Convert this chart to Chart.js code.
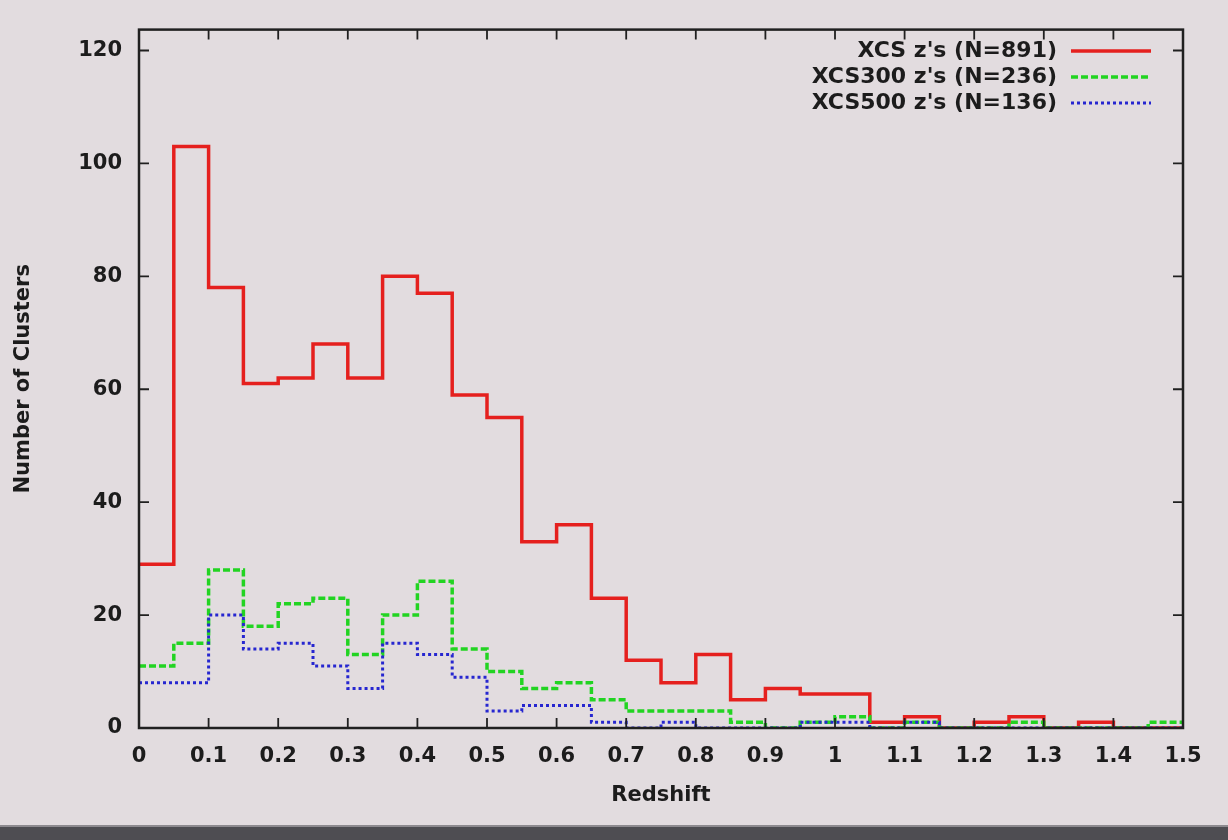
<!DOCTYPE html>
<html><head><meta charset="utf-8">
<script src="https://cdn.jsdelivr.net/npm/chart.js@4/dist/chart.umd.min.js"></script>
<style>
html,body{margin:0;padding:0;background:#e2dcdf;width:1228px;height:840px;overflow:hidden;}
#wrap{position:absolute;left:0;top:0;width:1228px;height:840px;}
#band{position:absolute;left:0;top:825px;width:1228px;height:15px;background:#4e4d52;border-top:2px solid #8d8a8f;}
</style></head><body>
<div id="wrap"><canvas id="c" width="1228" height="840"></canvas></div>
<div id="band"></div>
<script>
// Bin edges (redshift), 30 bins of 0.05
const binEdges = [0,0.05,0.1,0.15,0.2,0.25,0.3,0.35,0.4,0.45,0.5,0.55,0.6,0.65,0.7,0.75,0.8,0.85,0.9,0.95,1,1.05,1.1,1.15,1.2,1.25,1.3,1.35,1.4,1.45,1.5];
// Counts per bin
const xcsCounts    = [29,103,78,61,62,68,62,80,77,59,55,33,36,23,12,8,13,5,7,6,6,1,2,0,1,2,0,1,0,0];
const xcs300Counts = [11,15,28,18,22,23,13,20,26,14,10,7,8,5,3,3,3,1,0,1,2,0,1,0,0,1,0,0,0,1];
const xcs500Counts = [8,8,20,14,15,11,7,15,13,9,3,4,4,1,0,1,0,0,0,1,1,0,1,0,0,0,0,0,0,0];
const seriesLabels = ["XCS z's (N=891)", "XCS300 z's (N=236)", "XCS500 z's (N=136)"];
const xTickValues = [0,0.1,0.2,0.3,0.4,0.5,0.6,0.7,0.8,0.9,1,1.1,1.2,1.3,1.4,1.5];
const yTickValues = [0,20,40,60,80,100,120];
const xTitle = "Redshift";
const yTitle = "Number of Clusters";

function histPoints(counts){
  const pts = counts.map((v,i)=>({x:binEdges[i], y:v}));
  pts.push({x:binEdges[binEdges.length-1], y:counts[counts.length-1]});
  return pts;
}

const FONT = '"DejaVu Sans", sans-serif';
const styles = [
  {color:'#e5201e', width:3.5, dash:[]},
  {color:'#22d422', width:3.5, dash:[7,3]},
  {color:'#2626d0', width:3, dash:[3,3]}
];

const framePlugin = {
  id:'frame',
  afterDatasetsDraw(chart){
    const {ctx, chartArea:a, scales:{x,y}} = chart;
    ctx.save();
    ctx.strokeStyle = '#202020';
    ctx.lineWidth = 1.8;
    const tl = 10;
    ctx.beginPath();
    xTickValues.forEach(v=>{
      const px = x.getPixelForValue(v);
      ctx.moveTo(px,a.bottom); ctx.lineTo(px,a.bottom-tl);
      ctx.moveTo(px,a.top); ctx.lineTo(px,a.top+tl);
    });
    yTickValues.forEach(v=>{
      const py = y.getPixelForValue(v);
      ctx.moveTo(a.left,py); ctx.lineTo(a.left+tl,py);
      ctx.moveTo(a.right,py); ctx.lineTo(a.right-tl,py);
    });
    ctx.stroke();
    ctx.lineWidth = 2.5;
    ctx.strokeRect(a.left,a.top,a.right-a.left,a.bottom-a.top);
    ctx.restore();
  },
  afterDraw(chart){
    const ctx = chart.ctx;
    ctx.save();
    ctx.font = 'bold 22px ' + FONT;
    ctx.textAlign = 'right';
    ctx.textBaseline = 'middle';
    chart.data.datasets.forEach((ds,i)=>{
      const yy = 51 + i*26;
      ctx.fillStyle = '#1c1c1c';
      ctx.fillText(ds.label, 1057, yy);
      ctx.strokeStyle = ds.borderColor;
      ctx.lineWidth = ds.borderWidth;
      ctx.setLineDash(ds.borderDash || []);
      ctx.beginPath();
      ctx.moveTo(1071, yy); ctx.lineTo(1151, yy);
      ctx.stroke();
      ctx.setLineDash([]);
    });
    ctx.restore();
  }
};

const allCounts = [xcsCounts, xcs300Counts, xcs500Counts];
const datasets = allCounts.map((c,i)=>({
  label: seriesLabels[i],
  data: histPoints(c),
  stepped: 'before',
  borderColor: styles[i].color,
  borderWidth: styles[i].width,
  borderDash: styles[i].dash,
  pointRadius: 0,
  fill: false,
  order: 3 - i
}));

new Chart(document.getElementById('c'), {
  type:'line',
  data:{datasets},
  options:{
    responsive:false,
    animation:false,
    layout:{padding:{top:27,right:45,left:0,bottom:0}},
    plugins:{legend:{display:false}, tooltip:{enabled:false}},
    scales:{
      x:{
        type:'linear', min:0, max:1.5,
        afterBuildTicks(s){ s.ticks = xTickValues.map(v=>({value:v})); },
        afterFit(s){ s.height = 112; },
        grid:{display:false, drawTicks:false},
        border:{display:false},
        ticks:{autoSkip:false, maxRotation:0, padding:16, color:'#1c1c1c',
               font:{family:FONT, size:21, weight:'bold'},
               callback:(v)=>String(v)},
        title:{display:true, text:xTitle, color:'#1c1c1c',
               font:{family:FONT, size:21, weight:'bold'}, padding:{top:0,bottom:32}}
      },
      y:{
        type:'linear', min:0, max:123.7,
        afterBuildTicks(s){ s.ticks = yTickValues.map(v=>({value:v})); },
        afterFit(s){ s.width = 139; },
        grid:{display:false, drawTicks:false},
        border:{display:false},
        ticks:{padding:17, color:'#1c1c1c', font:{family:FONT, size:21, weight:'bold'},
               callback:(v)=>String(v)},
        title:{display:true, text:yTitle, color:'#1c1c1c',
               font:{family:FONT, size:21, weight:'bold'}, padding:{top:11,bottom:0}}
      }
    }
  },
  plugins:[framePlugin]
});
</script>
</body></html>
